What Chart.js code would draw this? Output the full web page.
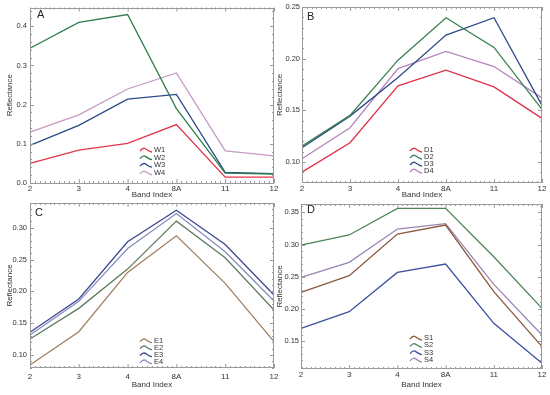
<!DOCTYPE html>
<html><head><meta charset="utf-8">
<script src="https://cdn.jsdelivr.net/npm/chart.js@4.4.1/dist/chart.umd.min.js"></script>
<style>
body{margin:0;background:#fff;width:550px;height:395px;position:relative;overflow:hidden}
canvas{position:absolute;display:block}
</style></head><body>
<canvas id="cA" width="290" height="200" style="left:0;top:0"></canvas>
<canvas id="cB" width="275" height="200" style="left:275px;top:0"></canvas>
<canvas id="cC" width="290" height="200" style="left:0;top:195px"></canvas>
<canvas id="cD" width="275" height="200" style="left:275px;top:195px"></canvas>
<script>
// ---- data ----
const bands = ['2','3','4','8A','11','12'];

const namesA = ['W1','W2','W3','W4'];
const W1 = [0.050,0.084,0.101,0.149,0.015,0.015];
const W2 = [0.344,0.410,0.430,0.190,0.025,0.023];
const W3 = [0.096,0.147,0.214,0.226,0.027,0.024];
const W4 = [0.130,0.174,0.240,0.281,0.082,0.069];
const ticksA = [0.0,0.1,0.2,0.3,0.4];

const namesB = ['D1','D2','D3','D4'];
const D1 = [0.090,0.1185,0.1736,0.1888,0.1726,0.1421];
const D2 = [0.1152,0.145,0.1985,0.2396,0.2108,0.1508];
const D3 = [0.1136,0.1443,0.1816,0.2228,0.2396,0.1547];
const D4 = [0.103,0.133,0.1904,0.207,0.1923,0.162];
const ticksB = [0.10,0.15,0.20,0.25];

const namesC = ['E1','E2','E3','E4'];
const E1 = [0.0843,0.1366,0.2298,0.2874,0.2126,0.121];
const E2 = [0.125,0.1733,0.235,0.3105,0.2529,0.1707];
const E3 = [0.1356,0.188,0.278,0.3277,0.2738,0.1942];
const E4 = [0.1314,0.1843,0.2675,0.3225,0.2623,0.185];
const ticksC = [0.10,0.15,0.20,0.25,0.30];

const namesD = ['S1','S2','S3','S4'];
const S1 = [0.2256,0.2515,0.3163,0.3303,0.2267,0.1412];
const S2 = [0.2992,0.3148,0.3562,0.3562,0.2811,0.2008];
const S3 = [0.1697,0.1956,0.2567,0.2697,0.1775,0.1153];
const S4 = [0.249,0.2723,0.324,0.3324,0.238,0.1593];
const ticksD = [0.15,0.20,0.25,0.30,0.35];

const FONT = "'Liberation Sans', Arial, sans-serif";
const TXT = '#333';
const FRAME = '#9a9a9a';

const panelPlugin = {
  id: 'panel',
  afterDatasetsDraw(chart, args, o) {
    const ctx = chart.ctx, a = chart.chartArea;
    const xs = chart.scales.x, ys = chart.scales.y;
    ctx.save();
    ctx.strokeStyle = FRAME; ctx.lineWidth = 1;
    ctx.strokeRect(Math.round(a.left)+0.5, Math.round(a.top)+0.5, Math.round(a.right-a.left)-1, Math.round(a.bottom-a.top)-1);
    ctx.beginPath();
    // x ticks (major + minor) on bottom and top
    const n = chart.data.labels.length;
    for (let i = 0; i < n; i++) {
      const px = xs.getPixelForValue(i);
      ctx.moveTo(px+0.5, a.bottom); ctx.lineTo(px+0.5, a.bottom-4);
      ctx.moveTo(px+0.5, a.top); ctx.lineTo(px+0.5, a.top+4);
      if (i < n-1) {
        const nx = xs.getPixelForValue(i+1);
        for (let k = 1; k < 10; k++) {
          const mx = Math.round(px + (nx-px)*k/10)+0.5;
          ctx.moveTo(mx, a.bottom); ctx.lineTo(mx, a.bottom-2);
          ctx.moveTo(mx, a.top); ctx.lineTo(mx, a.top+2);
        }
      }
    }
    // y ticks
    const step = o.step;
    for (let v = Math.ceil(ys.min/ (step/5) - 1e-6)*(step/5); v <= ys.max+1e-9; v += step/5) {
      const py = Math.round(ys.getPixelForValue(v))+0.5;
      const major = Math.abs(v/step - Math.round(v/step)) < 1e-6;
      const L = major ? 4 : 2;
      ctx.moveTo(a.left, py); ctx.lineTo(a.left+L, py);
      ctx.moveTo(a.right, py); ctx.lineTo(a.right-L, py);
    }
    ctx.stroke();
    // panel letter
    ctx.fillStyle = '#222';
    ctx.font = "11px " + FONT;
    ctx.textBaseline = 'middle'; ctx.textAlign = 'left';
    ctx.fillText(o.letter, o.lx, o.ly);
    // legend
    ctx.font = "7.5px " + FONT;
    chart.data.datasets.forEach((d, i) => {
      const y = o.legY + i*o.legStep;
      const x = o.legX;
      ctx.strokeStyle = d.borderColor; ctx.lineWidth = 1.3;
      ctx.beginPath();
      ctx.moveTo(x, y+1);
      ctx.quadraticCurveTo(x+3, y-2.5, x+5, y-1.5);
      ctx.bezierCurveTo(x+7, y-0.5, x+9, y+2, x+12, y+2);
      ctx.stroke();
      ctx.fillStyle = TXT;
      ctx.fillText(d.label, x+14, y);
    });
    ctx.restore();
  }
};

function make(id, names, series, colors, yTicks, c) {
  return new Chart(document.getElementById(id), {
    type: 'line',
    data: {
      labels: bands,
      datasets: series.map((s, i) => ({
        label: names[i], data: s, borderColor: colors[i], backgroundColor: colors[i],
        borderWidth: 1.3, pointRadius: 0, tension: 0, fill: false
      }))
    },
    options: {
      responsive: false, animation: false, devicePixelRatio: 1,
      layout: { padding: c.pad },
      plugins: {
        legend: { display: false }, tooltip: { enabled: false },
        panel: c.panel
      },
      scales: {
        x: {
          type: 'category', offset: false,
          grid: { display: false, drawTicks: false }, border: { display: false },
          ticks: { padding: c.xPad, font: { size: 8, family: FONT }, color: TXT, maxRotation: 0, autoSkip: false },
          title: { display: true, text: 'Band Index', font: { size: 8, family: FONT }, color: TXT, padding: 0 },
          afterFit: s => { s.height = c.xH; }
        },
        y: {
          min: c.min, max: c.max,
          grid: { display: false, drawTicks: false }, border: { display: false },
          afterBuildTicks: s => { s.ticks = yTicks.map(v => ({ value: v })); },
          ticks: { padding: c.yPad, font: { size: 7.5, family: FONT }, color: TXT, callback: v => v.toFixed(c.dec) },
          title: { display: true, text: 'Reflectance', font: { size: 8, family: FONT }, color: TXT, padding: { top: c.tPad, bottom: 0 } },
          afterFit: s => { s.width = c.yW; }
        }
      }
    },
    plugins: [panelPlugin]
  });
}

make('cA', namesA, [W1,W2,W3,W4], ['#e4344a','#2f7d4a','#2b4b88','#c69ac2'], ticksA, {
  pad: { top: 7, right: 16, bottom: 0, left: 0 }, min: 0, max: 0.448, dec: 1,
  xH: 17, xPad: 1, yW: 30, yPad: 3, tPad: 5,
  panel: { letter: 'A', lx: 37, ly: 15, legX: 140, legY: 150, legStep: 7.6, step: 0.1 }
});
make('cB', namesB, [D1,D2,D3,D4], ['#e0304a','#3a8050','#2e4a88','#b484bc'], ticksB, {
  pad: { top: 7, right: 8, bottom: 0, left: 0 }, min: 0.0795, max: 0.25, dec: 2,
  xH: 17, xPad: 1, yW: 27, yPad: 2, tPad: 0,
  panel: { letter: 'B', lx: 32, ly: 16.5, legX: 135, legY: 150, legStep: 7, step: 0.05 }
});
make('cC', namesC, [E1,E2,E3,E4], ['#a08060','#5e7e62','#3c4890','#8a8cc0'], ticksC, {
  pad: { top: 8, right: 16, bottom: 5, left: 0 }, min: 0.0795, max: 0.339, dec: 2,
  xH: 22, xPad: 4, yW: 30, yPad: 3, tPad: 5,
  panel: { letter: 'C', lx: 35, ly: 17.5, legX: 140, legY: 145.7, legStep: 7, step: 0.05 }
});
make('cD', namesD, [S1,S2,S3,S4], ['#8c5a3a','#4e8456','#3e50a0','#9a86b0'], ticksD, {
  pad: { top: 9, right: 8, bottom: 5, left: 0 }, min: 0.1065, max: 0.363, dec: 2,
  xH: 21, xPad: 1, yW: 26, yPad: 2, tPad: 0,
  panel: { letter: 'D', lx: 32, ly: 15, legX: 135, legY: 143, legStep: 7.3, step: 0.05 }
});
</script>
</body></html>
